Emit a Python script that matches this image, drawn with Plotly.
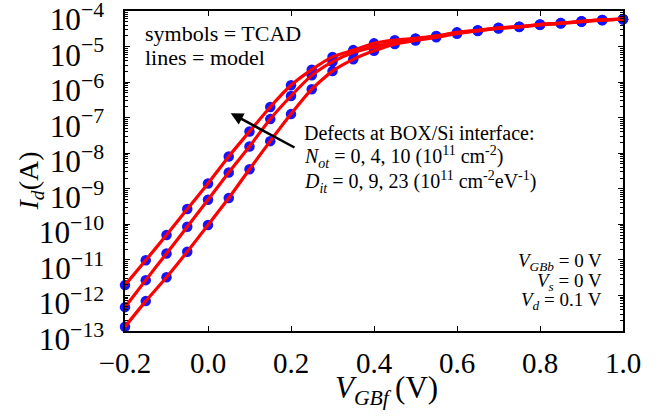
import plotly.graph_objects as go

# Gate voltage (V)
vgbf = [-0.2, -0.15, -0.1, -0.05, 0.0, 0.05, 0.1, 0.15, 0.2, 0.25, 0.3, 0.35, 0.4,
        0.45, 0.5, 0.55, 0.6, 0.65, 0.7, 0.75, 0.8, 0.85, 0.9, 0.95, 1.0]

# log10(Id) for the three defect cases
log_id_a = [-11.71, -11.01, -10.30, -9.57, -8.85, -8.09, -7.39, -6.70, -6.09, -5.65, -5.29, -5.10, -4.91,
            -4.82, -4.77, -4.70, -4.60, -4.54, -4.47, -4.44, -4.38, -4.34, -4.29, -4.25, -4.23]
log_id_b = [-12.33, -11.57, -10.82, -10.07, -9.31, -8.54, -7.81, -7.04, -6.39, -5.81, -5.43, -5.17, -5.01,
            -4.88, -4.79, -4.71, -4.61, -4.55, -4.48, -4.44, -4.38, -4.34, -4.29, -4.25, -4.23]
log_id_c = [-12.88, -12.16, -11.49, -10.77, -10.02, -9.26, -8.45, -7.66, -6.90, -6.20, -5.69, -5.36, -5.12,
            -4.93, -4.83, -4.74, -4.64, -4.56, -4.49, -4.45, -4.39, -4.35, -4.30, -4.26, -4.23]

series = [log_id_a, log_id_b, log_id_c]
FONT = "Liberation Serif"

fig = go.Figure()
for s in series:
    fig.add_trace(go.Scatter(x=vgbf, y=[10 ** v for v in s], mode="markers",
                             marker=dict(color="#1414ff", size=10.5), cliponaxis=False,
                             showlegend=False))
for s in series:
    fig.add_trace(go.Scatter(x=vgbf, y=[10 ** v for v in s], mode="lines",
                             line=dict(color="#ff0000", width=3.2, shape="spline", smoothing=0.6),
                             cliponaxis=False, showlegend=False))

fig.update_xaxes(range=[-0.2, 1.0], dtick=0.2, tick0=0, tickformat=".1f", automargin=False,
                 showline=True, linecolor="black", linewidth=1.5, mirror="ticks",
                 ticks="inside", ticklen=5, tickwidth=1.2, tickcolor="black",
                 showgrid=False, zeroline=False,
                 tickfont=dict(family=FONT, size=29, color="black"), ticklabelstandoff=5)
fig.update_yaxes(type="log", range=[-13.0005, -3.9995], dtick=1, tick0=0, exponentformat="power",
                 automargin=False, ticklabeloverflow="allow", ticklabelshift=8,
                 showline=True, linecolor="black", linewidth=1.5, mirror="ticks",
                 ticks="inside", ticklen=5, tickwidth=1.2, tickcolor="black",
                 minor=dict(ticks="inside", ticklen=3, tickcolor="black", tickwidth=1, showgrid=False),
                 showgrid=False, zeroline=False,
                 tickfont=dict(family=FONT, size=25, color="black"), ticklabelstandoff=14)

ann = []
def txt(x, y, t, size, xanchor="left", **kw):
    ann.append(dict(xref="paper", yref="paper", x=x, y=y, text=t, showarrow=False,
                    xanchor=xanchor, yanchor="middle",
                    font=dict(family=FONT, size=size, color="black"), **kw))

txt(0.036, 0.930, "symbols = TCAD", 22)
txt(0.036, 0.855, "lines = model", 22)
txt(0.355, 0.619, "Defects at BOX/Si interface:", 20)
txt(0.355, 0.544, "<i>N</i><sub><i>ot</i></sub> = 0, 4, 10 (10<sup>11</sup> cm<sup>-2</sup>)", 20)
txt(0.355, 0.466, "<i>D</i><sub><i>it</i></sub> = 0, 9, 23 (10<sup>11</sup> cm<sup>-2</sup>eV<sup>-1</sup>)", 20)
txt(0.962, 0.217, "<i>V</i><sub><i>GBb</i></sub> = 0 V", 19, xanchor="right")
txt(0.962, 0.154, "<i>V</i><sub><i>s</i></sub> = 0 V", 19, xanchor="right")
txt(0.962, 0.095, "<i>V</i><sub><i>d</i></sub> = 0.1 V", 19, xanchor="right")
txt(-0.189, 0.47, "<i>I</i><sub><i>d</i></sub>(A)", 28, xanchor="center", textangle=-90)
txt(0.526, -0.184, "<i>V</i><sub><i>GBf</i></sub>\u2009(V)", 31, xanchor="center")

ann.append(dict(xref="x", yref="y", axref="x", ayref="y",
                x=0.0547, y=-6.873, ax=0.212, ay=-7.862, text="",
                showarrow=True, arrowhead=2, arrowsize=1, arrowwidth=2.5, arrowcolor="black"))

fig.update_layout(width=663, height=418, margin=dict(l=125, r=40, t=11, b=87),
                  plot_bgcolor="white", paper_bgcolor="white", annotations=ann,
                  font=dict(family=FONT, color="black"))
fig.write_html("out.html", config={"displayModeBar": False},
               post_script="document.body.style.margin='0px';document.body.style.padding='0px';")
